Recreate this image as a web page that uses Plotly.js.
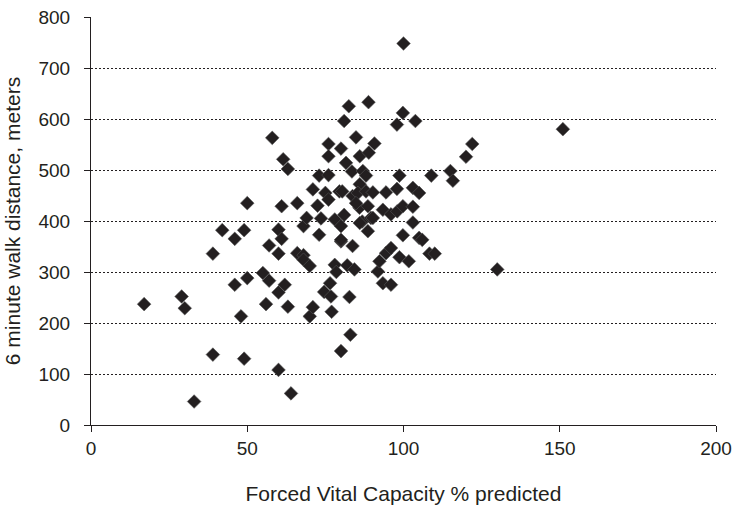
<!DOCTYPE html>
<html>
<head>
<meta charset="utf-8">
<script src="https://cdn.plot.ly/plotly-3.0.1.min.js"></script>
<style>html,body{margin:0;padding:0;background:#fff;}#chart{width:734px;height:505px;}</style>
</head>
<body>
<div id="chart"></div>
<script>
// Forced Vital Capacity % predicted
var fvc = [
  17, 29, 30, 33, 39, 39, 42, 46, 46, 48, 49, 49, 50, 50, 55, 56, 57, 57, 58, 60, 60, 60, 60,
  61, 61, 61.5, 63, 62, 63, 64, 66, 66, 68, 68, 70, 68, 69, 70, 71, 71,
  72.5, 73, 73.6, 73, 75, 74.6, 76, 76, 76, 76, 77, 76.8, 76.5, 78, 78, 78.5, 79.5, 80, 81, 80, 80, 80,
  81, 82.5, 80, 81.6, 83.5, 80.4, 83.7, 82.7, 83, 82, 84.3, 83.7, 84.8, 86, 87, 88, 86, 85.4, 88, 85.9, 88.6, 86.8, 88.6, 89.6, 84.8, 86, 88.8, 88.9,
  90.7, 90.2, 90.2, 93.4, 94.4, 91.8, 92.3, 93.4, 96, 94.4, 96, 98.7, 96, 98, 97.9, 97.9, 98.7, 99.8, 99.8, 100, 99.8,
  101.7, 103, 103, 103, 103.8, 105, 105, 106, 108.3, 110, 108.9, 115, 115.8, 120, 122, 130, 151
];
// 6 minute walk distance, meters
var walk = [
  237, 252, 229, 46, 138, 336, 382, 365, 275, 213, 382, 130, 435, 288, 298, 237, 352, 283, 563, 383, 336, 260, 108,
  429, 365, 521, 502, 275, 232, 62, 435, 337, 333, 324, 312, 390, 406, 213, 231, 462,
  430, 489, 405, 373, 455, 261, 551, 527, 490, 442, 222, 252, 278, 403, 314, 300, 458, 145, 412, 390, 360, 542,
  596, 625, 363, 514, 497, 458, 449, 251, 177, 313, 305, 351, 564, 527, 498, 489, 472, 455, 458, 426, 429, 399, 380, 406, 435, 396, 633, 534,
  552, 456, 406, 422, 456, 301, 321, 278, 275, 337, 347, 329, 413, 419, 463, 589, 489, 429, 372, 748, 612,
  321, 397, 428, 465, 596, 455, 367, 363, 336, 336, 489, 498, 479, 526, 551, 305, 580
];
var xTicks = [0, 50, 100, 150, 200];
var yTicks = [0, 100, 200, 300, 400, 500, 600, 700, 800];

var tickFont = {family: '"Liberation Sans", Arial, sans-serif', size: 19, color: '#231f20'};
var titleFont = {family: '"Liberation Sans", Arial, sans-serif', size: 21, color: '#231f20'};

Plotly.newPlot('chart', [{
  type: 'scatter',
  mode: 'markers',
  x: fvc,
  y: walk,
  marker: {symbol: 'diamond', size: 10.5, color: '#231f20', line: {color: '#555555', width: 0.6}},
  hoverinfo: 'x+y'
}], {
  width: 734,
  height: 505,
  margin: {l: 91, r: 18, t: 17, b: 80},
  paper_bgcolor: '#ffffff',
  plot_bgcolor: '#ffffff',
  showlegend: false,
  font: tickFont,
  xaxis: {
    range: [0, 200],
    tickvals: xTicks,
    ticktext: xTicks.map(String),
    ticks: 'outside',
    ticklen: 6,
    tickcolor: '#231f20',
    showline: true,
    linecolor: '#231f20',
    linewidth: 1,
    showgrid: false,
    zeroline: false,
    ticklabelstandoff: 0,
    tickfont: tickFont,
    title: {text: 'Forced Vital Capacity % predicted', font: titleFont, standoff: 30}
  },
  yaxis: {
    range: [0, 800],
    tickvals: yTicks,
    ticktext: yTicks.map(String),
    ticks: 'outside',
    ticklen: 6,
    tickcolor: '#231f20',
    showline: true,
    linecolor: '#231f20',
    linewidth: 1,
    showgrid: true,
    gridcolor: '#231f20',
    gridwidth: 1,
    griddash: '2px,2px',
    zeroline: false,
    ticklabelstandoff: 10,
    tickfont: tickFont,
    title: {text: '6 minute walk distance, meters', font: titleFont, standoff: 12}
  }
}, {displayModeBar: false, staticPlot: true});
</script>
</body>
</html>
